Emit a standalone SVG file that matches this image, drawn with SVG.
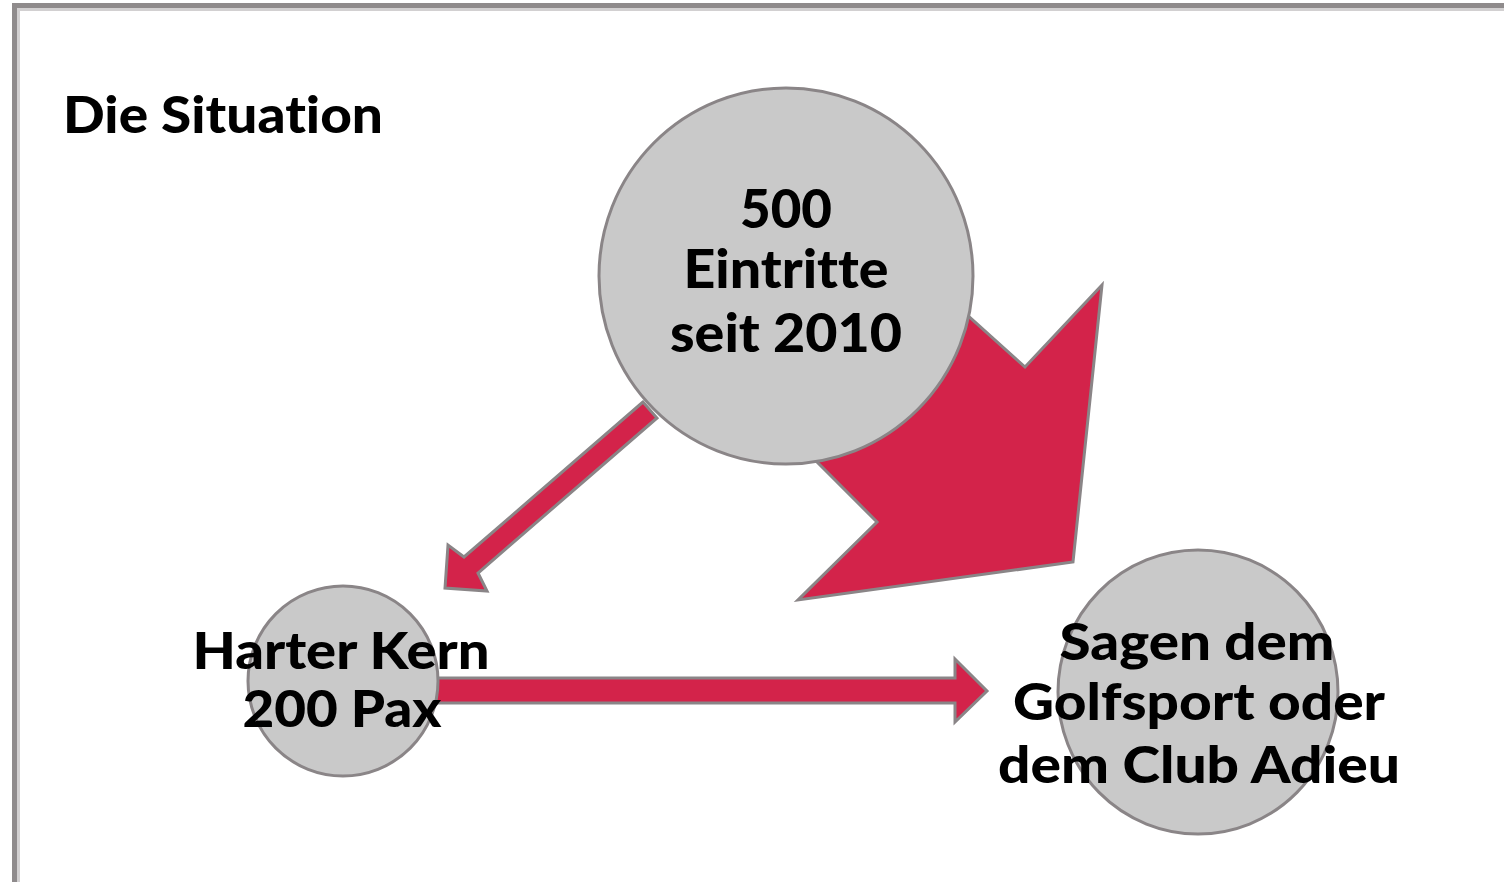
<svg xmlns="http://www.w3.org/2000/svg" width="1504" height="882" viewBox="0 0 1504 882">
<style>
.frame{fill:none;stroke:#8f8b8c;stroke-width:5}
.frame2{fill:none;stroke:#d2d0d1;stroke-width:3}
.node{fill:#c9c9c9;stroke:#8a8587;stroke-width:3}
.arrow{fill:#d3234a;stroke:#8a8587;stroke-width:3;stroke-linejoin:miter}
.t{font-family:Lato,"Open Sans","Liberation Sans",sans-serif;font-weight:900;fill:#000;text-anchor:middle;font-variant-ligatures:none}
</style>
<rect width="1504" height="882" fill="#fff"/>
<rect class="frame" x="14.5" y="5.5" width="1600" height="1000"/>
<rect class="frame2" x="18.5" y="9.5" width="1600" height="1000"/>
<text class="t" x="63" y="133" font-size="52" style="text-anchor:start" textLength="320" lengthAdjust="spacingAndGlyphs">Die Situation</text>
<g id="connectors">
<polygon id="big-arrow" class="arrow" points="875,232 1025,367 1102,285 1073,562 798,600 877,522 727,372"/>
<polygon id="arrow-kern" class="arrow" points="643,402 464,557 448,545 445,588 487,591 478,573 657,418"/>
<polygon id="arrow-adieu" class="arrow" points="420,678 955,678 955,659 987,691 955,722 955,703 420,703"/>
</g>
<g id="node-eintritte">
<ellipse class="node" cx="786" cy="276" rx="187" ry="188"/>
<text class="t" x="786" y="228" font-size="53" textLength="92" lengthAdjust="spacingAndGlyphs">500</text>
<text class="t" x="786" y="288" font-size="53" textLength="205" lengthAdjust="spacingAndGlyphs">Eintritte</text>
<text class="t" x="786" y="352" font-size="53" textLength="232" lengthAdjust="spacingAndGlyphs">seit 2010</text>
</g>
<g id="node-kern">
<circle class="node" cx="343" cy="681" r="95"/>
<text class="t" x="341" y="669" font-size="51" textLength="297" lengthAdjust="spacingAndGlyphs">Harter Kern</text>
<text class="t" x="342" y="727" font-size="51" textLength="199" lengthAdjust="spacingAndGlyphs">200 Pax</text>
</g>
<g id="node-adieu">
<ellipse class="node" cx="1198" cy="692" rx="140" ry="142"/>
<text class="t" x="1197" y="660" font-size="52" textLength="275" lengthAdjust="spacingAndGlyphs">Sagen dem</text>
<text class="t" x="1199" y="720" font-size="52" textLength="372" lengthAdjust="spacingAndGlyphs">Golfsport oder</text>
<text class="t" x="1199" y="783" font-size="52" textLength="402" lengthAdjust="spacingAndGlyphs">dem Club Adieu</text>
</g>
</svg>
